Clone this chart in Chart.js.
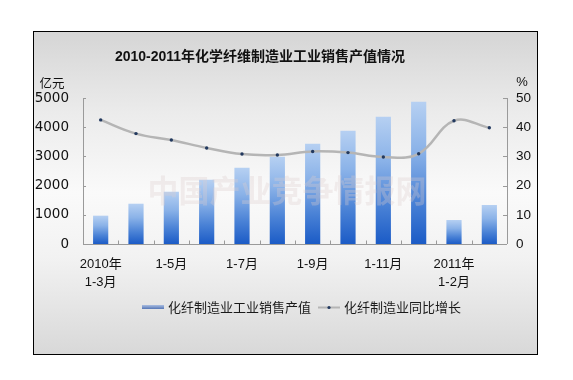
<!DOCTYPE html>
<html>
<head>
<meta charset="utf-8">
<script src="https://cdn.jsdelivr.net/npm/chart.js@4/dist/chart.umd.min.js"></script>
<style>
html,body{margin:0;padding:0;background:#fff;}
#wrap{width:573px;height:380px;position:relative;}
</style>
</head>
<body>
<div id="wrap"><canvas id="c" width="573" height="380"></canvas></div>
<script>
// ---- data ----
const categories = ['2010年1-3月','1-4月','1-5月','1-6月','1-7月','1-8月','1-9月','1-10月','1-11月','1-12月','2011年1-2月','1-3月'];
const xTickLabels = [['2010年','1-3月'],'','1-5月','','1-7月','','1-9月','','1-11月','',['2011年','1-2月'],''];
const salesValue = [970, 1380, 1790, 2200, 2610, 2990, 3435, 3880, 4360, 4870, 822, 1336];
const growthRate = [42.5, 37.8, 35.6, 32.9, 30.8, 30.5, 31.7, 31.3, 29.8, 30.9, 42.2, 39.8];
const leftAxis = {min:0, max:5000, step:1000};
const rightAxis = {min:0, max:50, step:10};
const titleText = '2010-2011年化学纤维制造业工业销售产值情况';
const seriesNames = ['化纤制造业工业销售产值','化纤制造业同比增长'];
const leftUnit = '亿元';
const rightUnit = '%';
const watermarkText = '中国产业竞争情报网';

const AXIS = '#9a9a9a';

function barGradient(ctx){
  const chart = ctx.chart;
  const ys = chart.scales.y;
  if (!ys || ctx.raw == null) return '#5a8ad8';
  const top = ys.getPixelForValue(ctx.raw);
  const base = ys.getPixelForValue(0);
  if (!isFinite(top) || !isFinite(base) || top === base) return '#5a8ad8';
  const g = chart.ctx.createLinearGradient(0, top, 0, base);
  g.addColorStop(0, '#b6d0f2');
  g.addColorStop(0.35, '#8ab2e8');
  g.addColorStop(0.7, '#4a82d6');
  g.addColorStop(1, '#1b5bc6');
  return g;
}

const decor = {
  id: 'decor',
  beforeDraw(chart){
    const ctx = chart.ctx;
    ctx.save();
    ctx.fillStyle = '#ffffff';
    ctx.fillRect(0,0,chart.width,chart.height);
    const g = ctx.createLinearGradient(0,31,0,355);
    g.addColorStop(0, '#d5d5d5');
    g.addColorStop(0.25, '#ebebeb');
    g.addColorStop(0.5, '#fafafa');
    g.addColorStop(0.7, '#f2f2f2');
    g.addColorStop(1, '#d8d8d8');
    ctx.fillStyle = g;
    ctx.fillRect(33,31,505,324);
    ctx.strokeStyle = '#000';
    ctx.lineWidth = 1;
    ctx.strokeRect(33.5,31.5,504,323);
    ctx.restore();
  },
  afterDatasetsDraw(chart){
    const ctx = chart.ctx;
    ctx.save();
    ctx.font = "bold 31px 'Noto Sans CJK SC'";
    ctx.fillStyle = 'rgba(220,205,205,0.32)';
    ctx.textAlign = 'center';
    ctx.textBaseline = 'middle';
    ctx.fillText(watermarkText, 287, 190);
    ctx.restore();
  },
  afterDraw(chart){
    const ctx = chart.ctx;
    const a = chart.chartArea;
    const ys = chart.scales.y, y1 = chart.scales.y1, xs = chart.scales.x;
    ctx.save();
    ctx.strokeStyle = AXIS;
    ctx.lineWidth = 1;
    ctx.beginPath();
    ctx.moveTo(Math.round(a.left)+0.5, a.top); ctx.lineTo(Math.round(a.left)+0.5, a.bottom);
    for (let v = leftAxis.min; v <= leftAxis.max; v += leftAxis.step){
      const p = Math.round(ys.getPixelForValue(v))+0.5;
      ctx.moveTo(a.left, p); ctx.lineTo(a.left+3, p);
    }
    ctx.moveTo(Math.round(a.right)+0.5, a.top); ctx.lineTo(Math.round(a.right)+0.5, a.bottom);
    for (let v = rightAxis.min; v <= rightAxis.max; v += rightAxis.step){
      const p = Math.round(y1.getPixelForValue(v))+0.5;
      ctx.moveTo(a.right-4, p); ctx.lineTo(a.right, p);
    }
    const yb = Math.round(a.bottom)+0.5;
    ctx.moveTo(a.left, yb); ctx.lineTo(a.right, yb);
    for (let i = 1; i < categories.length; i++){
      const p = Math.round((xs.getPixelForValue(i-1)+xs.getPixelForValue(i))/2)+0.5;
      ctx.moveTo(p, yb-4); ctx.lineTo(p, yb);
    }
    ctx.stroke();

    ctx.fillStyle = '#111';
    ctx.textAlign = 'center';
    ctx.textBaseline = 'middle';
    ctx.font = "bold 14px 'Liberation Sans', 'Noto Sans CJK SC'";
    ctx.fillText(titleText, 260, 57);

    ctx.font = "12.5px 'Noto Sans CJK SC'";
    ctx.fillText(leftUnit, 52, 83);
    ctx.font = "13px 'Liberation Sans'";
    ctx.fillText(rightUnit, 522, 82);

    const ly = 307;
    const lg = ctx.createLinearGradient(0, ly-2, 0, ly+2);
    lg.addColorStop(0, '#a9bde0');
    lg.addColorStop(1, '#5677b6');
    ctx.fillStyle = lg;
    ctx.fillRect(142, ly-2, 22, 4);
    ctx.fillStyle = '#1a1a1a';
    ctx.textAlign = 'left';
    ctx.font = "13px 'Noto Sans CJK SC'";
    ctx.fillText(seriesNames[0], 168, ly);
    ctx.strokeStyle = '#b5b5b5';
    ctx.lineWidth = 2;
    ctx.beginPath(); ctx.moveTo(318, ly+0.5); ctx.lineTo(340, ly+0.5); ctx.stroke();
    ctx.fillStyle = '#22395f';
    ctx.beginPath(); ctx.arc(329, ly+0.5, 1.6, 0, Math.PI*2); ctx.fill();
    ctx.fillStyle = '#1a1a1a';
    ctx.fillText(seriesNames[1], 344, ly);
    ctx.restore();
  }
};

new Chart(document.getElementById('c'), {
  type: 'bar',
  data: {
    labels: categories,
    datasets: [
      {
        type: 'line',
        label: seriesNames[1],
        data: growthRate,
        yAxisID: 'y1',
        order: 0,
        borderColor: '#b5b5b5',
        borderWidth: 2.5,
        tension: 0.4,
        fill: false,
        pointRadius: 1.7,
        pointBackgroundColor: '#22395f',
        pointBorderColor: '#22395f',
        pointBorderWidth: 0
      },
      {
        type: 'bar',
        label: seriesNames[0],
        data: salesValue,
        yAxisID: 'y',
        order: 1,
        backgroundColor: barGradient,
        borderWidth: 0,
        categoryPercentage: 1,
        barPercentage: 0.43
      }
    ]
  },
  plugins: [decor],
  options: {
    responsive: false,
    animation: false,
    devicePixelRatio: 1,
    layout: { padding: { top: 98, left: 0, right: 0, bottom: 0 } },
    plugins: { legend: { display: false }, title: { display: false }, tooltip: { enabled: false } },
    scales: {
      x: {
        offset: true,
        grid: { display: false, drawTicks: false },
        border: { display: false },
        ticks: {
          autoSkip: false, maxRotation: 0, minRotation: 0, padding: 11.5,
          color: '#111',
          font: { family: "'Liberation Sans', 'Noto Sans CJK SC'", size: 13, lineHeight: 18/13 },
          callback: (v, i) => xTickLabels[i]
        },
        afterFit: s => { s.height = 136; }
      },
      y: {
        position: 'left',
        min: leftAxis.min, max: leftAxis.max,
        grid: { display: false, drawTicks: false },
        border: { display: false },
        ticks: { stepSize: leftAxis.step, padding: 14, color: '#111',
          font: { family: "'DejaVu Sans'", size: 13.5 },
          callback: v => String(v) },
        afterFit: s => { s.width = 83; }
      },
      y1: {
        position: 'right',
        min: rightAxis.min, max: rightAxis.max,
        grid: { display: false, drawTicks: false },
        border: { display: false },
        ticks: { stepSize: rightAxis.step, padding: 9, color: '#111',
          font: { family: "'Liberation Sans'", size: 13.5 },
          callback: v => String(v) },
        afterFit: s => { s.width = 66; }
      }
    }
  }
});
</script>
</body>
</html>
